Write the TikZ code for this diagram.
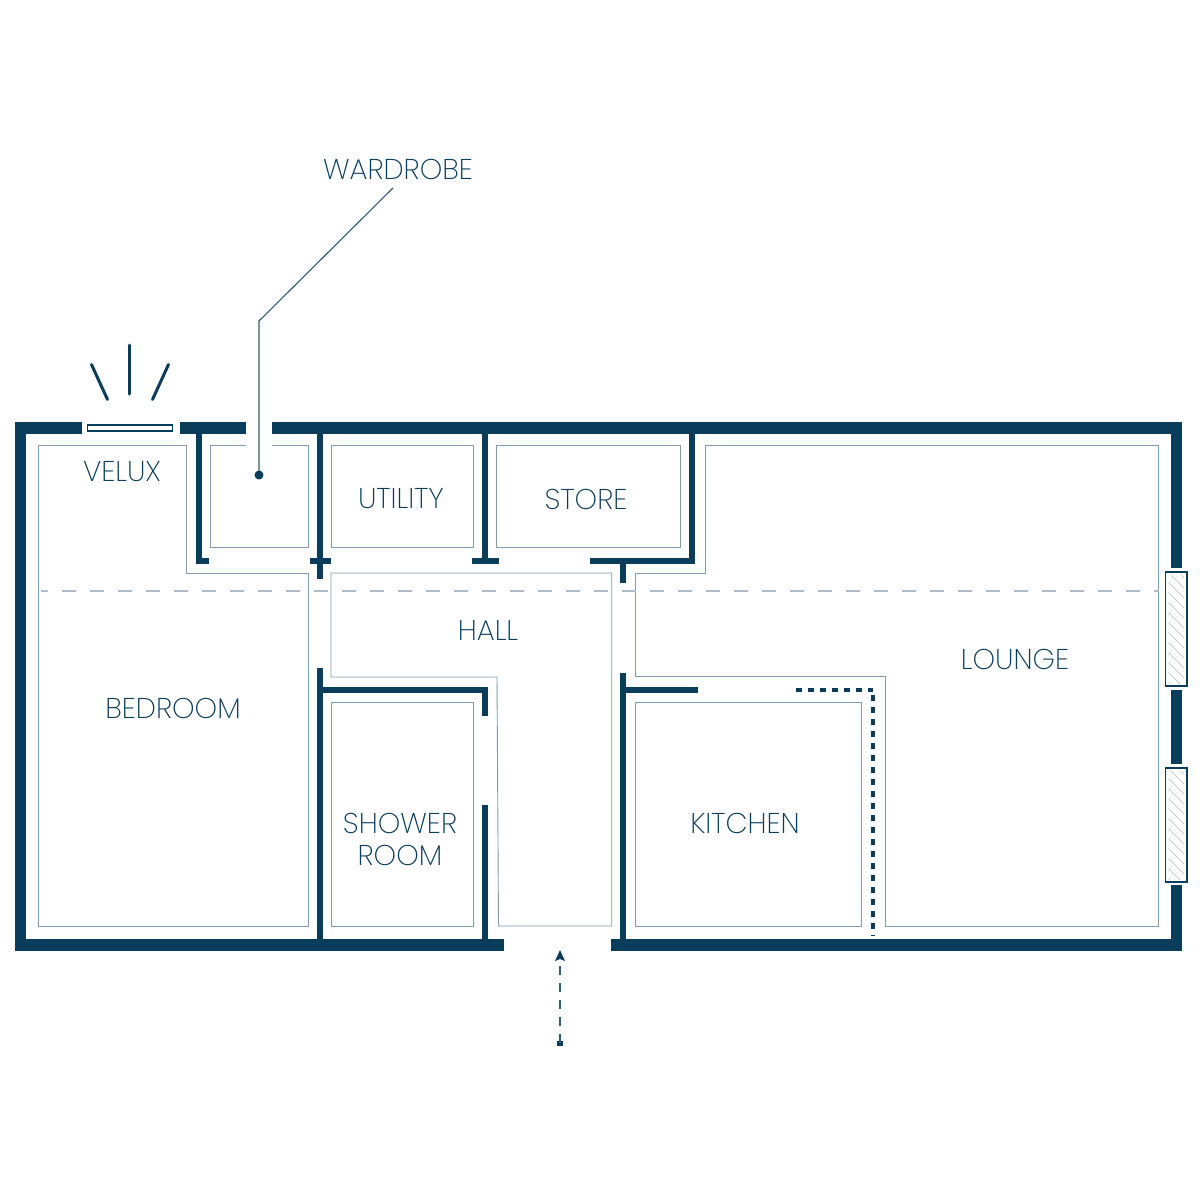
\documentclass[tikz,border=0pt]{standalone}
\usepackage{fontspec}
\setmainfont{Poppins}[UprightFont=* ExtraLight]
\definecolor{planblue}{HTML}{0A3D5C}
\definecolor{roomline}{HTML}{7F9BB0}
\definecolor{dashgrey}{HTML}{ADBCC8}
\tikzset{
	wall/.style={line width=11.5pt, color=planblue},
	partition/.style={line width=6pt, color=planblue},
	room/.style={line width=0.9pt, color=roomline},
	label/.style={text=planblue, font=\fontsize{28.6}{32}\selectfont, align=center, inner sep=0pt},
	ray/.style={line width=3pt, color=planblue, line cap=round},
	winframe/.style={line width=1.5pt, draw=planblue, fill=white},
}
\begin{document}
\begin{tikzpicture}[x=1pt, y=-1pt]
		%%%%% START %%%%%
		\useasboundingbox (0, 0) rectangle (1200, 1200);
		\fill[white] (0, 0) rectangle (1200, 1200);
		
		% outer walls
		\draw[wall] (81.5, 428) -- (20.5, 428) -- (20.5, 945) -- (504, 945);
		\draw[wall] (611, 945) -- (1176.5, 945) -- (1176.5, 885);
		\draw[wall] (272, 428) -- (1176.5, 428) -- (1176.5, 568);
		\draw[wall] (180, 428) -- (245.5, 428);
		\draw[wall] (1176.5, 690) -- (1176.5, 764);
		
		% inner walls
		\draw[partition] (199, 434) -- (199, 561) -- (209, 561);
		\draw[partition] (320, 434) -- (320, 579);
		\draw[partition] (310, 561) -- (331, 561);
		\draw[partition] (320, 668) -- (320, 939);
		\draw[partition] (320, 690) -- (485, 690) -- (485, 716);
		\draw[partition] (485, 805) -- (485, 939);
		\draw[partition] (485, 434) -- (485, 561);
		\draw[partition] (472, 561) -- (499, 561);
		\draw[partition] (692, 434) -- (692, 561) -- (590, 561);
		\draw[partition] (623.2, 561) -- (623.2, 583);
		\draw[partition] (623.2, 673) -- (623.2, 939);
		\draw[partition] (623.2, 689.5) -- (698, 689.5);
		
		% dotted wall
		\draw[line width=4.5pt, color=planblue, dash pattern=on 6pt off 6pt] (796, 690) -- (873, 690);
		\draw[line width=4.5pt, color=planblue, dash pattern=on 6pt off 6pt] (873, 695) -- (873, 936);
		
		% rooms
		\draw[room] (38, 445) -- (186.7, 445) -- (186.7, 573) -- (308.6, 573) -- (308.6, 926) -- (38, 926) -- cycle;
		\draw[room] (245.5, 445) -- (210.5, 445) -- (210.5, 547.5) -- (308.6, 547.5) -- (308.6, 445) -- (272, 445);
		\draw[room] (331, 445) rectangle (473.6, 547.5);
		\draw[room] (496.5, 445) rectangle (680.7, 547.5);
		\draw[room] (705, 445) -- (1158.6, 445) -- (1158.6, 926) -- (885.6, 926) -- (885.6, 676) -- (635.5, 676) -- (635.5, 573) -- (705, 573) -- cycle;
		\draw[room] (331, 573) -- (611.7, 573) -- (611.7, 926) -- (498.5, 926) -- (497, 677) -- (331, 677) -- cycle;
		\draw[room] (331, 702.5) rectangle (473.6, 926);
		\draw[room] (635.5, 702.5) rectangle (861.7, 926);
		
		% roof line
		\draw[line width=2.2pt, color=dashgrey, dash pattern=on 14pt off 14pt, dash phase=7pt] (40.7, 591) -- (1159, 591);
		
		% velux
		\draw[winframe] (87.5, 425.2) rectangle (172.7, 430.8);
		\draw[ray] (129.5, 345) -- (129.5, 394);
		\draw[ray] (91.5, 364.5) -- (107.5, 399.5);
		\draw[ray] (168.5, 364.5) -- (152.5, 399.5);
		
		% windows
		\foreach \wintop in {572, 768} {
			\draw[winframe] (1165.5, \wintop) rectangle (1187, \wintop + 114);
			\begin{scope}
				\clip (1168.5, \wintop + 3) rectangle (1184, \wintop + 111);
				\foreach \hatch in {-10, 0, ..., 110} {
					\draw[line width=0.6pt, color=dashgrey] (1168, \wintop + \hatch) -- (1185, \wintop + \hatch + 17);
				}
			\end{scope}
		}
		
		% labels
		\node[label] (wardrobe) at (398, 169) {WARDROBE};
		\node[label] (velux) at (122, 472) {VELUX};
		\node[label] (utility) at (401, 499) {UTILITY};
		\node[label] (store) at (586, 499) {STORE};
		\node[label] (hall) at (488, 630) {HALL};
		\node[label] (lounge) at (1015, 659) {LOUNGE};
		\node[label] (bedroom) at (173, 708) {BEDROOM};
		\node[label] (kitchen) at (745, 823) {KITCHEN};
		\node[label] (shower) at (400, 839) {SHOWER\\ROOM};
		
		% wardrobe pointer
		\coordinate (pointstart) at (393, 188);
		\coordinate (pointbend) at (259, 321);
		\coordinate (pointend) at (259, 475);
		\draw[line width=1.1pt, color=planblue!85] (pointstart) -- (pointbend) -- (pointend);
		\fill[planblue] (pointend) circle (4.5);
		
		% entrance
		\coordinate (entryfoot) at (560, 1043);
		\coordinate (entrytip) at (560, 950);
		\fill[planblue] (557, 1040.5) rectangle (562.5, 1046);
		\draw[line width=1.2pt, color=planblue!85, dash pattern=on 9pt off 8pt] (entryfoot) -- (560, 961);
		\fill[planblue] (entrytip) -- (565, 961) -- (560, 959) -- (555, 961) -- cycle;
		
		%%%%% END %%%%%
	\end{tikzpicture}
\end{document}
